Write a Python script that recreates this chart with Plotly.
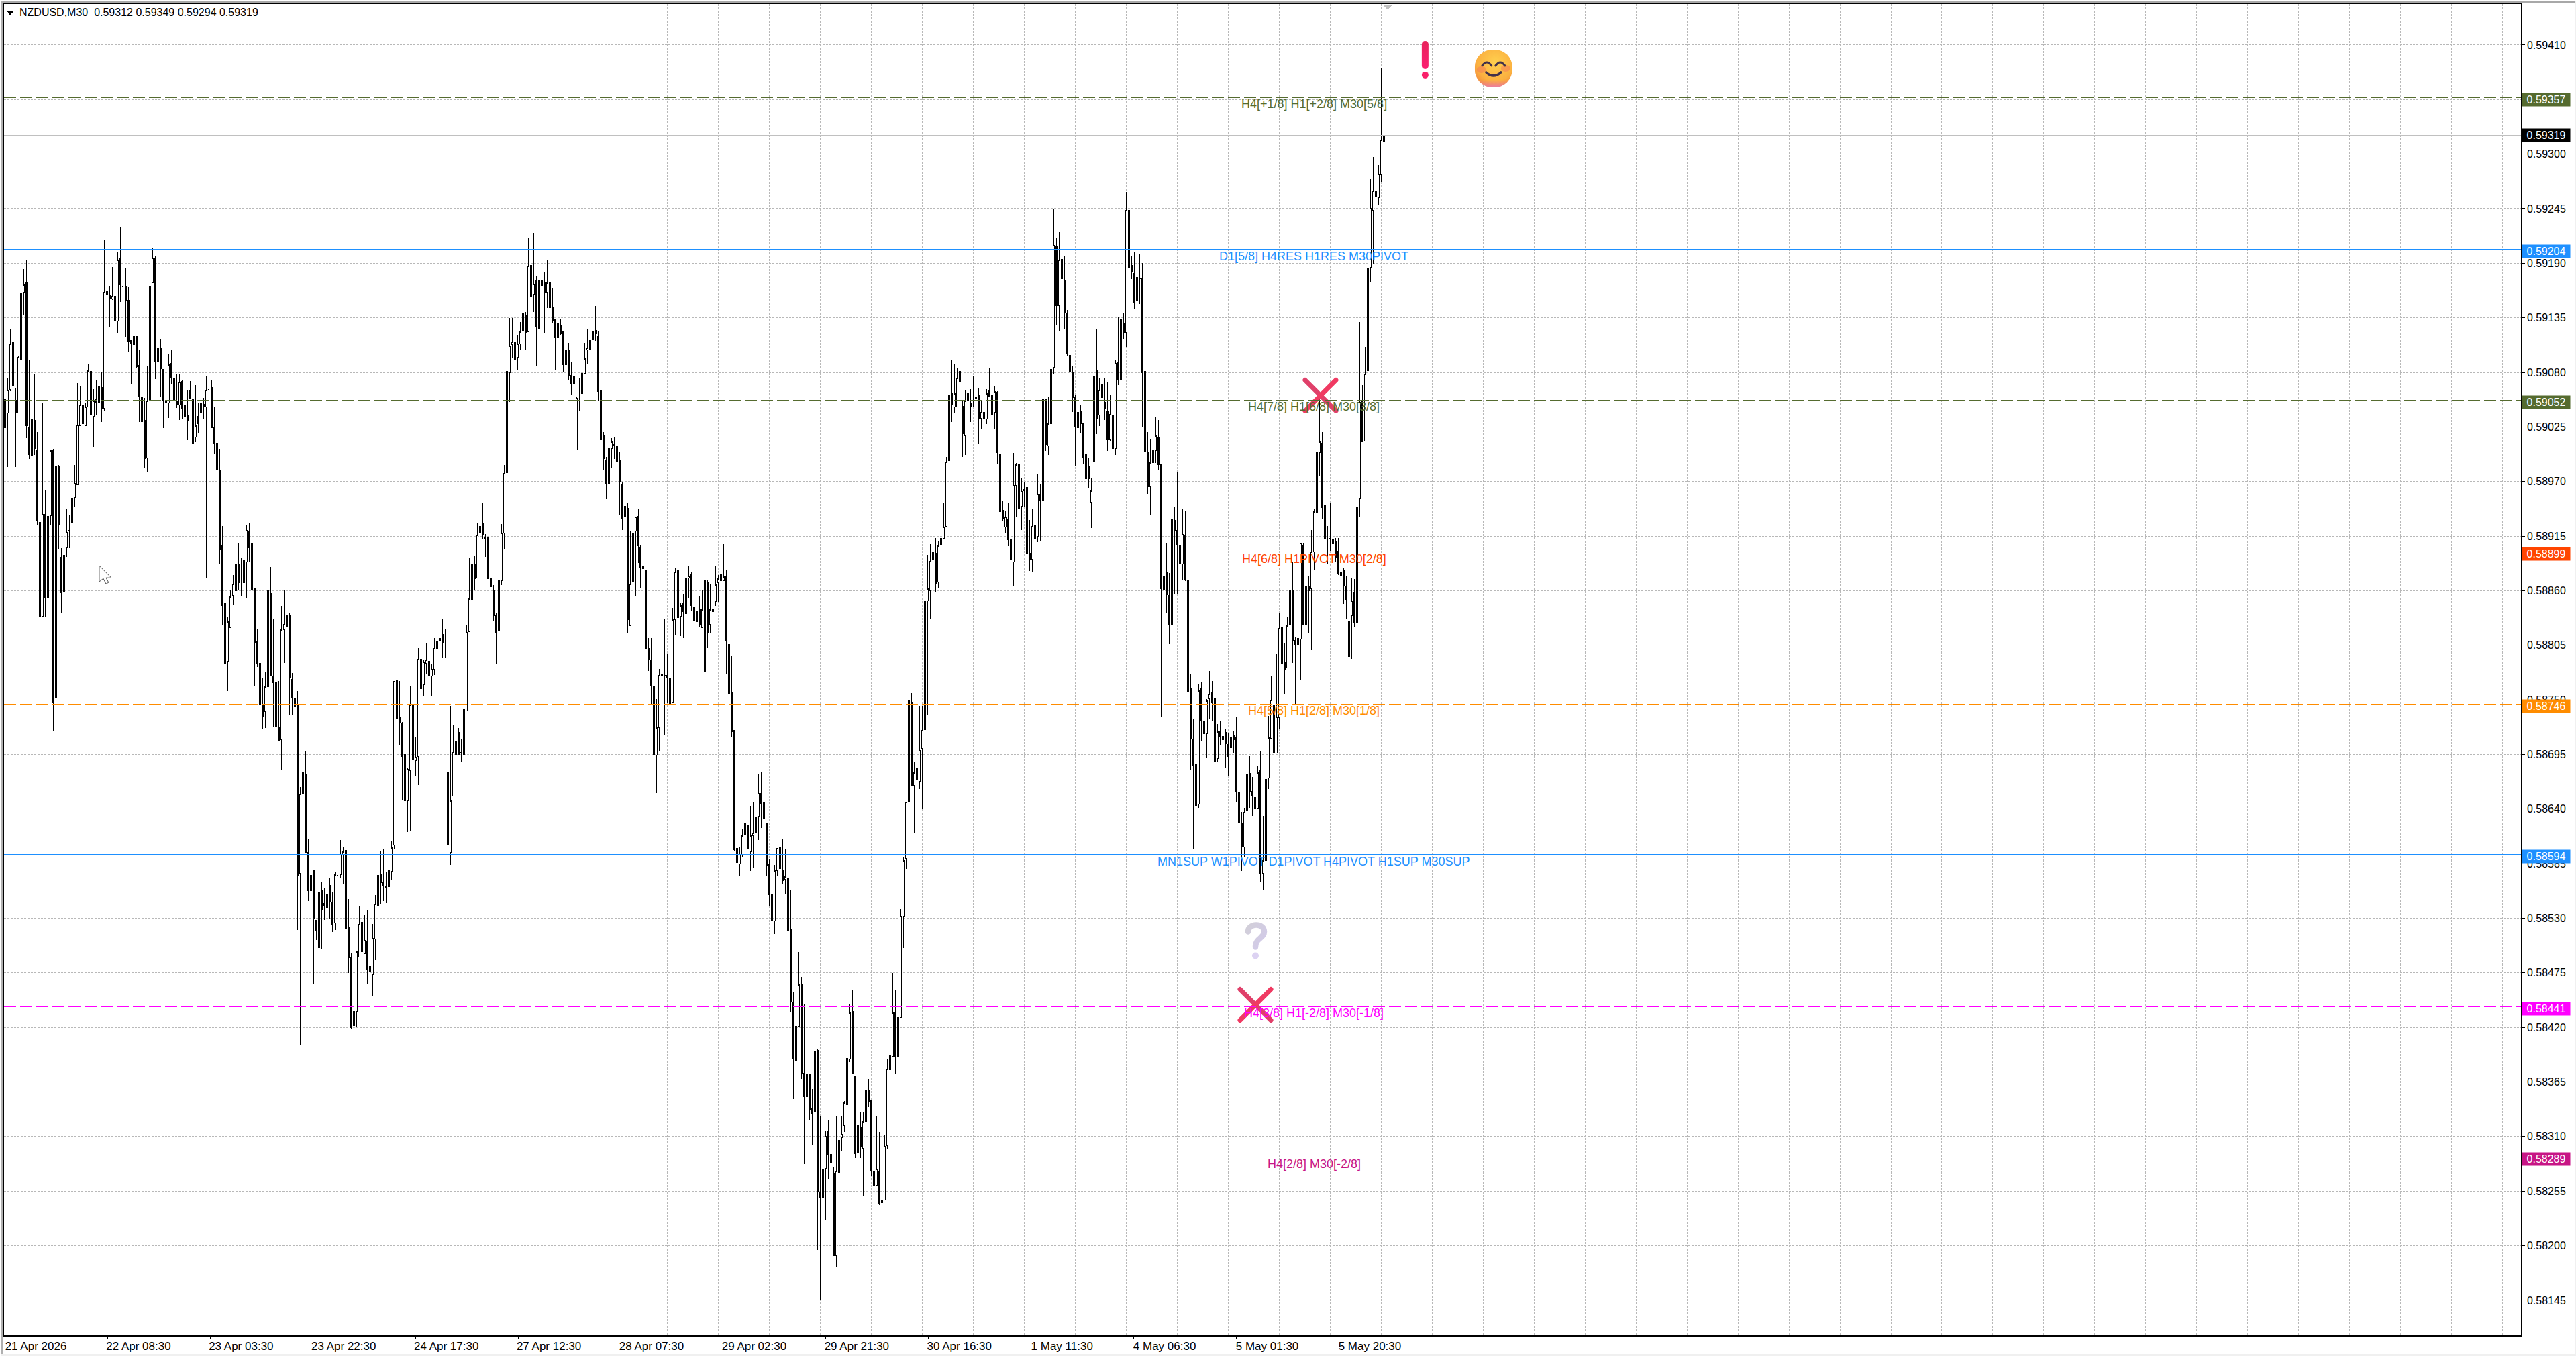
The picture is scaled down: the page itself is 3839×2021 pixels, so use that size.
import base64
import plotly.graph_objects as go

# ---- data (prices in 1e-5 units) ----
opens = [
59053,59039,59063,59110,59052,59039,59093,59161,59170,59025,
58996,59032,59001,58929,58834,58937,58853,58936,59002,58752,
58986,58894,58859,58903,58921,58929,58954,58967,59026,59047,
59026,59045,59081,59036,59053,59049,59065,59044,59162,59158,
59154,59157,59132,59195,59166,59166,59153,59112,59108,59116,
59087,59055,59032,58994,59051,59170,59195,59091,59105,59083,
59051,59049,59089,59074,59051,59047,59071,59047,59037,59062,
59053,59015,59036,59039,59048,59045,59063,59065,59025,59009,
58981,58905,58847,58789,58823,58855,58860,58887,58867,58868,
58889,58920,58907,58862,58809,58787,58746,58738,58763,58857,
58774,58767,58723,58710,58821,58824,58835,58771,58752,58744,
58575,58655,58675,58596,58558,58578,58528,58500,58558,58545,
58540,58563,58546,58525,58573,58574,58594,58598,58521,58490,
58422,58436,58491,58526,58494,58507,58482,58473,58509,58542,
58574,58566,58562,58562,58577,58604,58770,58732,58727,58695,
58648,58679,58746,58689,58693,58791,58765,58787,58789,58774,
58781,58802,58810,58816,58807,58677,58596,58653,58695,58717,
58696,58694,58739,58819,58851,58887,58873,58918,58928,58914,
58914,58873,58860,58835,58820,58870,58918,58979,59080,59108,
59110,59095,59109,59122,59137,59121,59188,59159,59172,59124,
59173,59170,59161,59170,59146,59133,59115,59128,59121,59088,
59102,59077,59068,59002,59052,59059,59079,59103,59103,59113,
59122,59116,59062,59016,58992,58968,59003,59008,59006,58991,
58967,58935,58943,58825,58869,58920,58935,58904,58884,58880,
58802,58790,58763,58694,58722,58775,58775,58775,58772,58747,
58831,58880,58834,58847,58837,58873,58876,58843,58829,58842,
58823,58779,58868,58826,58841,58849,58868,58876,58870,58874,
58806,58758,58719,58600,58585,58594,58614,58624,58597,58613,
58616,58633,58656,58647,58626,58584,58554,58527,58578,58602,
58579,58569,58570,58519,58445,58387,58421,58463,58374,58350,
58373,58338,58335,58397,58254,58248,58278,58315,58292,58273,
58190,58274,58309,58321,58342,58388,58436,58371,58294,58320,
58298,58325,58356,58347,58275,58261,58275,58243,58246,58301,
58377,58391,58435,58390,58430,58532,58590,58647,58747,58664,
58681,58668,58701,58720,58850,58860,58891,58898,58869,58906,
58913,58925,58991,59059,59045,59045,59070,59046,59016,59051,
59049,59053,59055,59057,59034,59040,59033,59062,59057,59040,
59060,58997,58941,58924,58932,58912,58889,58966,58988,58945,
58961,58964,58898,58892,58926,58915,58957,58951,59053,59006,
59028,59085,59207,59147,59194,59173,59139,59097,59080,59055,
59024,59041,59029,58997,58985,58949,58990,59082,59037,59068,
59050,59041,59012,59037,59003,59090,59072,59130,59120,59243,
59188,59180,59153,59174,59174,59081,59000,58965,58989,59001,
59014,58987,58861,58878,58855,58826,58931,58921,58906,58887,
58916,58871,58762,58710,58685,58645,58761,58729,58716,58751,
58758,58752,58691,58718,58713,58717,58705,58702,58714,58712,
58657,58625,58602,58638,58676,58658,58652,58641,58679,58575,
58588,58671,58711,58744,58696,58732,58823,58788,58782,58826,
58860,58810,58806,58811,58906,58826,58865,58862,58899,58939,
58999,59009,58946,58913,58913,58912,58909,58900,58878,58880,
58864,58794,58835,58858,58828,58953,59051,59011,59082,59186,
59243,59262,59256,59279,59312,
]
highs = [
59055,59074,59124,59116,59064,59097,59169,59184,59193,59093,
59041,59079,59020,58935,59049,58962,58952,59002,59003,59017,
58987,58903,58915,58942,58936,58957,58987,59069,59066,59074,
59049,59089,59090,59063,59072,59079,59081,59214,59187,59167,
59186,59184,59202,59226,59183,59185,59166,59112,59141,59116,
59103,59099,59054,59087,59170,59205,59197,59110,59114,59083,
59065,59099,59102,59082,59079,59078,59072,59047,59062,59071,
59072,59067,59049,59054,59054,59076,59097,59072,59045,59012,
59003,58925,58864,58833,58861,58876,58896,58908,58893,58894,
58926,58928,58911,58862,58821,58787,58772,58778,58887,58884,
58831,58781,58769,58845,58861,58852,58837,58777,58769,58759,
58662,58718,58698,58610,58584,58578,58528,58573,58566,58561,
58569,58570,58556,58576,58585,58609,58602,58601,58549,58495,
58460,58496,58542,58536,58533,58538,58510,58524,58553,58615,
58597,58599,58576,58586,58608,58769,58779,58769,58728,58724,
58682,58764,58781,58713,58802,58802,58790,58807,58819,58786,
58812,58824,58822,58831,58821,58691,58744,58725,58719,58722,
58710,58747,58825,58893,58906,58895,58928,58944,58948,58917,
58927,58878,58866,58837,58871,58927,58987,59099,59135,59135,
59118,59117,59131,59142,59141,59216,59215,59220,59177,59177,
59237,59181,59193,59182,59165,59133,59166,59134,59122,59116,
59110,59091,59095,59055,59074,59097,59110,59123,59126,59179,
59147,59122,59080,59020,58995,59006,59014,59015,59026,59000,
58970,58977,58949,58920,58929,58934,58942,58906,58908,58905,
58812,58812,58764,58751,58781,58787,58832,58796,58819,58843,
58883,58896,58848,58856,58885,58885,58879,58867,58840,58854,
58860,58872,58871,58867,58852,58885,58876,58913,58907,58881,
58903,58794,58719,58627,58601,58620,58645,58634,58643,58647,
58695,58675,58677,58666,58626,58590,58572,58584,58600,58606,
58610,58600,58572,58558,58455,58429,58496,58471,58444,58412,
58373,58358,58396,58398,58331,58310,58316,58327,58305,58279,
58330,58316,58330,58346,58402,58444,58458,58371,58343,58334,
58334,58362,58368,58347,58296,58330,58315,58277,58312,58388,
58416,58475,58457,58433,58539,58591,58647,58765,58757,58687,
58707,58744,58744,58864,58896,58907,58913,58913,58910,58944,
58948,58995,59084,59093,59089,59084,59099,59051,59062,59081,
59063,59076,59083,59064,59051,59043,59063,59084,59064,59066,
59061,58997,58951,58941,58949,58937,58999,58989,58989,58974,
58969,58968,58931,58943,58931,58978,58968,59068,59053,59055,
59090,59245,59215,59221,59218,59198,59143,59111,59086,59058,
59053,59047,59029,59010,58994,58974,59117,59124,59074,59068,
59074,59070,59057,59063,59093,59136,59140,59140,59262,59255,
59198,59201,59183,59199,59190,59081,59020,59013,59022,59035,
59032,58987,58934,58908,58878,58941,58944,58980,58944,58942,
58941,58904,58776,58731,58707,58766,58768,58752,58751,58779,
58769,58752,58726,58729,58729,58720,58717,58715,58719,58733,
58664,58637,58641,58693,58693,58672,58670,58684,58699,58633,
58672,58734,58774,58777,58797,58838,58823,58807,58833,58865,
58889,58813,58821,58908,58908,58897,58875,58921,58942,59012,
59057,59020,58950,58925,58948,58927,58913,58913,58887,58883,
58875,58829,58873,58872,58944,59131,59067,59106,59190,59275,
59297,59293,59289,59386,59349,
]
lows = [
59022,58985,59061,59064,58985,59039,59075,59138,59014,58993,
58949,58997,58926,58754,58834,58833,58853,58926,58718,58721,
58902,58838,58844,58894,58903,58922,58945,58967,59026,59008,
59026,59045,59032,59005,59037,59043,59030,59041,59136,59126,
59153,59106,59120,59151,59132,59115,59101,59068,59108,59084,
59030,59028,58983,58979,59051,59170,59073,59056,59055,59024,
59030,59034,59068,59039,59044,59032,59033,59008,59012,59053,
58987,59010,59019,59030,59033,58873,59046,59024,58998,58945,
58887,58825,58786,58759,58823,58846,58860,58860,58855,58837,
58853,58889,58860,58764,58783,58727,58721,58722,58737,58775,
58723,58695,58708,58680,58787,58801,58735,58735,58733,58518,
58402,58655,58596,58547,58510,58464,58508,58469,58499,58528,
58540,58530,58516,58518,58546,58571,58564,58518,58475,58419,
58397,58421,58491,58485,58494,58464,58467,58451,58488,58499,
58544,58547,58545,58546,58568,58599,58702,58704,58649,58647,
58617,58618,58681,58674,58664,58735,58754,58776,58771,58754,
58775,58802,58799,58792,58792,58569,58584,58653,58687,58694,
58687,58693,58739,58819,58841,58860,58873,58908,58912,58894,
58862,58852,58829,58786,58810,58866,58902,58964,59050,59095,
59074,59082,59103,59090,59103,59121,59146,59141,59086,59103,
59138,59119,59145,59142,59130,59082,59115,59117,59080,59086,
59072,59057,59057,59002,59041,59046,59079,59088,59092,59109,
59112,59051,58995,58982,58953,58957,58984,58993,58984,58937,
58921,58891,58818,58825,58869,58855,58888,58862,58834,58802,
58779,58745,58674,58656,58699,58714,58714,58747,58704,58747,
58815,58829,58814,58812,58837,58853,58840,58828,58810,58824,
58823,58779,58802,58817,58826,58845,58849,58859,58870,58776,
58751,58712,58597,58564,58572,58591,58610,58584,58578,58581,
58590,58609,58621,58594,58572,58542,58519,58514,58572,58572,
58565,58554,58516,58435,58348,58300,58421,58368,58282,58344,
58326,58302,58326,58196,58145,58211,58226,58267,58280,58190,
58178,58262,58295,58315,58342,58385,58373,58288,58274,58288,
58250,58311,58340,58271,58252,58261,58241,58207,58246,58298,
58339,58391,58373,58356,58430,58500,58580,58623,58664,58616,
58641,58660,58640,58714,58735,58831,58879,58858,58862,58879,
58913,58925,58989,59030,59039,59045,59065,58995,58997,59035,
59030,59045,59049,59008,59023,59005,59028,59056,59001,59023,
58988,58939,58930,58918,58905,58883,58865,58934,58916,58921,
58945,58885,58880,58879,58883,58909,58910,58932,59001,58997,
58967,59078,59128,59122,59140,59124,59097,59076,59040,58986,
58993,59019,58988,58972,58964,58923,58960,59018,59026,59036,
59032,59001,59011,58987,58997,59067,59063,59114,59106,59180,
59174,59144,59143,59149,59025,58993,58957,58937,58984,58989,
58981,58733,58847,58837,58806,58822,58857,58857,58878,58871,
58870,58718,58680,58600,58643,58641,58709,58697,58691,58731,
58729,58677,58687,58705,58706,58682,58674,58694,58697,58647,
58616,58578,58591,58633,58641,58633,58633,58641,58566,58559,
58588,58660,58711,58697,58696,58720,58779,58756,58782,58826,
58787,58746,58791,58770,58826,58826,58818,58800,58881,58938,
58976,58932,58910,58887,58900,58895,58889,58876,58850,58847,
58831,58756,58791,58824,58818,58934,59010,59011,59070,59171,
59189,59247,59249,59272,59294,
]
closes = [
59024,59062,59109,59066,59039,59095,59160,59168,59026,58997,
59033,59003,58930,58834,58937,58853,58935,59001,58747,58985,
58926,58858,58896,58919,58920,58953,58968,59027,59047,59028,
59045,59082,59037,59051,59049,59066,59043,59161,59158,59155,
59157,59132,59193,59168,59166,59153,59111,59109,59116,59086,
59056,59030,58993,59051,59166,59195,59091,59104,59084,59051,
59049,59088,59074,59051,59048,59070,59043,59036,59032,59053,
59008,59026,59028,59049,59045,59062,59063,59024,59008,58982,
58901,58845,58787,58829,58854,58867,58887,58868,58867,58891,
58921,58903,58861,58808,58787,58745,58733,58763,58860,58775,
58767,58723,58709,58821,58826,58835,58772,58752,58743,58573,
58655,58677,58596,58558,58573,58529,58517,58556,58538,58543,
58554,58546,58524,58574,58573,58594,58597,58520,58490,58420,
58436,58496,58524,58496,58508,58478,58476,58510,58544,58573,
58566,58563,58561,58578,58601,58769,58731,58727,58693,58648,
58680,58745,58690,58692,58791,58761,58788,58790,58774,58781,
58802,58809,58812,58808,58807,58604,58648,58697,58708,58695,
58697,58741,58818,58852,58887,58872,58916,58925,58917,58913,
58872,58864,58835,58818,58871,58918,58978,59081,59107,59111,
59093,59109,59121,59139,59120,59187,59157,59169,59126,59172,
59167,59161,59170,59145,59132,59115,59129,59119,59088,59103,
59077,59068,59076,59054,59052,59079,59094,59105,59112,59121,
59119,59061,59012,58993,58968,59004,59010,59006,58990,58970,
58932,58945,58831,58867,58918,58934,58905,58883,58882,58802,
58791,58764,58694,58722,58775,58776,58775,58773,58746,58831,
58879,58833,58845,58839,58872,58875,58845,58830,58840,58826,
58841,58870,58818,58841,58839,58866,58872,58870,58874,58810,
58756,58718,58599,58586,58594,58613,58625,58600,58613,58616,
58632,58656,58645,58630,58583,58554,58527,58578,58600,58580,
58568,58572,58517,58446,58388,58421,58463,58373,58350,58373,
58337,58333,58396,58254,58248,58277,58310,58292,58283,58190,
58275,58306,58312,58344,58389,58435,58373,58293,58321,58300,
58325,58356,58345,58276,58260,58277,58242,58246,58300,58378,
58392,58435,58391,58430,58532,58588,58647,58749,58664,58677,
58669,58699,58719,58850,58862,58890,58899,58867,58905,58913,
58924,58990,59057,59047,59059,59074,59081,59018,59051,59059,
59045,59053,59054,59034,59040,59034,59059,59056,59038,59061,
58999,58940,58932,58934,58911,58891,58966,58987,58943,58960,
58962,58898,58892,58925,58913,58957,58951,59053,59007,59028,
59083,59208,59147,59193,59174,59140,59099,59081,59055,59025,
59040,59028,58994,58973,58973,58961,59076,59034,59062,59055,
59043,59012,59038,59003,59089,59072,59134,59120,59243,59186,
59182,59151,59176,59174,59080,59000,58965,58989,59002,59016,
58987,58862,58875,58856,58826,58932,58921,58906,58887,58917,
58871,58758,58711,58684,58643,58759,58729,58716,58749,58756,
58747,58688,58718,58713,58710,58706,58693,58712,58710,58658,
58626,58602,58637,58675,58658,58654,58641,58677,58575,58588,
58670,58712,58750,58697,58733,58822,58787,58781,58825,58860,
58810,58806,58812,58908,58826,58865,58860,58899,58940,58999,
59010,58944,58912,58913,58913,58907,58894,58877,58875,58865,
58851,58829,58850,58828,58944,59050,59010,59078,59185,59245,
59263,59257,59280,59314,59319,
]
assert len(opens) == len(highs) == len(lows) == len(closes) == 515

# the terminal places its date ticks every 153 px, i.e. 38.25 bars
x_tick_bars = [0, 38.25, 76.5, 114.75, 153, 191.25, 229.5, 267.75, 306, 344.25, 382.5, 420.75, 459, 497.25]
x_tick_labels = ["21 Apr 2026", "22 Apr 08:30", "23 Apr 03:30", "23 Apr 22:30", "24 Apr 17:30",
                 "27 Apr 12:30", "28 Apr 07:30", "29 Apr 02:30", "29 Apr 21:30", "30 Apr 16:30",
                 "1 May 11:30", "4 May 06:30", "5 May 01:30", "5 May 20:30"]
x_grid_bars = list(range(0, 938, 19))

y_tick_labels = ["0.59410", "0.59355", "0.59300", "0.59245", "0.59190", "0.59135", "0.59080", "0.59025",
                 "0.58970", "0.58915", "0.58860", "0.58805", "0.58750", "0.58695", "0.58640", "0.58585",
                 "0.58530", "0.58475", "0.58420", "0.58365", "0.58310", "0.58255", "0.58200", "0.58145"]

level_values = [0.59357, 0.59204, 0.59052, 0.58899, 0.58746, 0.58594, 0.58441, 0.58289]
level_colors = ["#556B2F", "#1E90FF", "#556B2F", "#FF4500", "#FF8C00", "#1E90FF", "#FF00FF", "#C71585"]
level_dashes = ["18px,6px", "solid", "18px,6px", "18px,6px", "18px,6px", "solid", "18px,6px", "18px,6px"]
level_widths = [1, 1, 1, 1, 1, 2, 1, 1]
level_labels = ["H4[+1/8] H1[+2/8] M30[5/8]", "D1[5/8] H4RES H1RES M30PIVOT", "H4[7/8] H1[6/8] M30[3/8]",
                "H4[6/8] H1PIVOT M30[2/8]", "H4[5/8] H1[2/8] M30[1/8]",
                "MN1SUP W1PIVOT D1PIVOT H4PIVOT H1SUP M30SUP", "H4[3/8] H1[-2/8] M30[-1/8]", "H4[2/8] M30[-2/8]"]
bid_price = 0.59319
header_text = "NZDUSD,M30  0.59312 0.59349 0.59294 0.59319"

# ---- geometry of the page ----
W, H = 3839, 2021
L, R, T, B = 4, 3757, 4, 1990
BAR_PX = 4
X0 = 5.5
TICK_FONT = "Liberation Sans"


def px_x(px):
    return (px - L) / (R - L)


def px_y(py):
    return (B - py) / (B - T)


def svg_image(svg, left, top, width, height):
    uri = "data:image/svg+xml;base64," + base64.b64encode(svg.encode()).decode()
    return dict(source=uri, xref="paper", yref="paper", x=px_x(left), y=px_y(top),
                sizex=width / (R - L), sizey=height / (B - T), xanchor="left", yanchor="top",
                sizing="stretch", layer="above")


CROSS = ('<svg xmlns="http://www.w3.org/2000/svg" viewBox="0 0 56 56" width="56" height="56">'
         '<path d="M5 5 L51 51" stroke="#E0406A" stroke-width="7" stroke-linecap="round"/>'
         '<path d="M51 5 L5 51" stroke="#F03A62" stroke-width="7" stroke-linecap="round"/></svg>')
BANG = ('<svg xmlns="http://www.w3.org/2000/svg" viewBox="0 0 12 58" width="12" height="58">'
        '<defs><linearGradient id="b" x1="0" y1="0" x2="0" y2="1"><stop offset="0" stop-color="#E8245C"/>'
        '<stop offset="1" stop-color="#FB1F72"/></linearGradient></defs>'
        '<rect x="1" y="1" width="10" height="42" rx="5" fill="url(#b)"/><circle cx="6" cy="52" r="5" fill="#F9206A"/></svg>')
SMILE = ('<svg xmlns="http://www.w3.org/2000/svg" viewBox="0 0 56 56" width="56" height="56">'
         '<defs><radialGradient id="f" cx="0.55" cy="0.35" r="0.7"><stop offset="0" stop-color="#FFD04E"/>'
         '<stop offset="0.7" stop-color="#FBB040"/><stop offset="1" stop-color="#F2883C"/></radialGradient>'
         '<linearGradient id="c" x1="0" y1="0.8" x2="0" y2="1"><stop offset="0" stop-color="#F07AA0" stop-opacity="0"/>'
         '<stop offset="1" stop-color="#E878C0" stop-opacity="0.8"/></linearGradient></defs>'
         '<rect x="0" y="0" width="56" height="56" rx="26" fill="url(#f)"/>'
         '<rect x="0" y="0" width="56" height="56" rx="26" fill="url(#c)"/>'
         '<ellipse cx="10" cy="30" rx="7" ry="5" fill="#F2705A" opacity="0.45"/>'
         '<ellipse cx="46" cy="28" rx="7" ry="5" fill="#F2705A" opacity="0.45"/>'
         '<path d="M11 24 Q18 14 25 24 M31 24 Q38 14 45 24" stroke="#43324A" stroke-width="3" fill="none" stroke-linecap="round"/>'
         '<path d="M17 34 Q28 44 39 34" stroke="#43324A" stroke-width="3.4" fill="none" stroke-linecap="round"/></svg>')
QUESTION = ('<svg xmlns="http://www.w3.org/2000/svg" viewBox="0 0 34 58" width="34" height="58">'
            '<defs><linearGradient id="q" x1="0" y1="0" x2="1" y2="1"><stop offset="0" stop-color="#D2CFD9"/>'
            '<stop offset="1" stop-color="#D2CAEA"/></linearGradient></defs>'
            '<path d="M5 16 C5 3 29 2 29 16 C29 26 16 25 16 39" stroke="url(#q)" stroke-width="8.5" fill="none" stroke-linecap="round"/>'
            '<circle cx="16" cy="52" r="5" fill="#DCD2F2"/></svg>')
CURSOR = ('<svg xmlns="http://www.w3.org/2000/svg" viewBox="0 0 20 29" width="20" height="29">'
          '<path d="M1 1 L1 25 L7 20 L11 28 L15 26 L11 19 L19 19 Z" fill="#FFFFFF" stroke="#555555" stroke-width="1"/></svg>')

images = [
    svg_image(CROSS, 1939, 560, 56, 56),
    svg_image(CROSS, 1842, 1469, 56, 56),
    svg_image(BANG, 2117, 58, 12, 58),
    svg_image(SMILE, 2197, 72, 56, 56),
    svg_image(QUESTION, 1854, 1372, 34, 58),
    svg_image(CURSOR, 145, 841, 20, 29),
]

fig = go.Figure()
fig.add_trace(go.Candlestick(
    x=list(range(len(opens))),
    open=[v / 1e5 for v in opens], high=[v / 1e5 for v in highs],
    low=[v / 1e5 for v in lows], close=[v / 1e5 for v in closes],
    increasing=dict(line=dict(color="#000000", width=1), fillcolor="#FFFFFF"),
    decreasing=dict(line=dict(color="#000000", width=1), fillcolor="#000000"),
    whiskerwidth=0, hoverinfo="skip", showlegend=False,
))

shapes = []
annotations = []
# bid line
shapes.append(dict(type="line", xref="paper", yref="y", x0=0, x1=1, y0=bid_price, y1=bid_price,
                   line=dict(color="#C0C0C0", width=1), layer="above"))
for value, color, dash, width, label in zip(level_values, level_colors, level_dashes, level_widths, level_labels):
    shapes.append(dict(type="line", xref="paper", yref="y", x0=0, x1=1, y0=value, y1=value,
                       line=dict(color=color, width=width, dash=dash), layer="above"))
    annotations.append(dict(xref="x", yref="y", x=488, y=value, text=label, showarrow=False, yshift=-10,
                            xanchor="center", yanchor="middle",
                            font=dict(family="Liberation Sans", size=18, color=color)))
    annotations.append(dict(xref="paper", yref="y", x=px_x(3758), y=value, text=f"{value:.5f}", showarrow=False,
                            xanchor="left", yanchor="middle", yshift=-3, width=71, height=19, align="center",
                            bgcolor=color, borderpad=0,
                            font=dict(family=TICK_FONT, size=16, color="#FFFFFF")))
annotations.append(dict(xref="paper", yref="y", x=px_x(3758), y=bid_price, text=f"{bid_price:.5f}", showarrow=False,
                        xanchor="left", yanchor="middle", width=71, height=19, align="center",
                        bgcolor="#000000", borderpad=0, font=dict(family=TICK_FONT, size=16, color="#FFFFFF")))
annotations.append(dict(xref="paper", yref="paper", x=px_x(25), y=px_y(17), text=header_text.replace("  ", "\u00a0\u00a0"),
                        showarrow=False, xanchor="left", yanchor="middle",
                        font=dict(family=TICK_FONT, size=16, color="#000000")))


def rect(x0, y0, x1, y1, color):
    return dict(type="rect", xref="paper", yref="paper", x0=px_x(x0), x1=px_x(x1), y0=px_y(y0), y1=px_y(y1),
                fillcolor=color, line=dict(width=0), layer="above")


def tri(points, color):
    path = "M" + " L".join(f"{px_x(a)},{px_y(b)}" for a, b in points) + " Z"
    return dict(type="path", xref="paper", yref="paper", path=path, fillcolor=color, line=dict(width=0), layer="above")


shapes += [
    rect(0, 0, W, 2, "#A8A8A8"),
    rect(0, 0, 2, H, "#B0B0B0"),
    rect(0, H - 3, W, H, "#F0F0F0"),
    rect(W - 2, 0, W, H, "#F0F0F0"),
    tri([(8, 14), (19, 14), (13.5, 21)], "#000000"),
    tri([(2059, 5), (2075, 5), (2067, 12)], "#C0C0C0"),
]

grid = dict(gridcolor="#B8B8B8", griddash="3px,2px", gridwidth=1)
fig.update_layout(
    width=W, height=H, autosize=False,
    paper_bgcolor="#FFFFFF", plot_bgcolor="#FFFFFF",
    margin=dict(l=L, r=W - R, t=T, b=H - B, pad=0),
    boxgap=0.5, boxgroupgap=0,
    shapes=shapes, annotations=annotations, images=images, showlegend=False,
    xaxis=dict(
        range=[(L - X0) / BAR_PX, (R - X0) / BAR_PX], rangeslider=dict(visible=False), zeroline=False,
        tickmode="array", tickvals=x_tick_bars, ticktext=x_tick_labels, ticks="outside", ticklen=4, tickcolor="#000000",
        tickfont=dict(family=TICK_FONT, size=17, color="#000000"), ticklabelshift=46, ticklabelstandoff=-4,
        showgrid=False, showline=True, mirror=True, linecolor="#000000", linewidth=1.5, tickangle=0,
        minor=dict(tickmode="array", tickvals=x_grid_bars, showgrid=True, ticks="", **grid),
    ),
    yaxis=dict(
        range=[58109.8 / 1e5, 59451.2 / 1e5], side="right", zeroline=False,
        tickmode="array", tickvals=[float(t) for t in y_tick_labels], ticktext=y_tick_labels,
        ticks="outside", ticklen=4, tickcolor="#000000", tickfont=dict(family=TICK_FONT, size=16, color="#000000"),
        showgrid=True, showline=True, mirror=True, linecolor="#000000", linewidth=1.5, **grid,
    ),
)
post = ("document.body.style.margin='0';"
        "var s=document.createElement('style');"
        "s.textContent='.shapelayer path,.boxes path{shape-rendering:crispEdges}';"
        "document.head.appendChild(s);")
fig.write_html("out.html", post_script=post, config=dict(displayModeBar=False))
